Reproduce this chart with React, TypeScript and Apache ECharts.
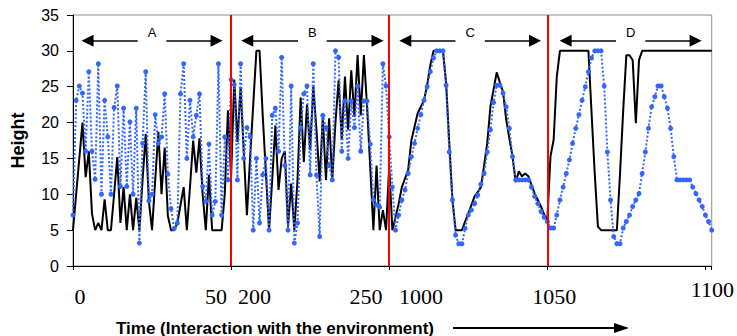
import React, { useEffect, useRef } from "react";
import * as echarts from "echarts";

// Tick positions (continuous step index) and their printed labels
const tickValues = [0, 50, 100, 150, 200];
const tickLabels = ["0", "50  200", "250   1000", "1050", "1100"];

// Segment annotations: [start, end, letter] at height arrowHeight
const arrowHeight = 31.4;
const segmentArrows: [number, number, string][] = [
  [4.6, 45.4, "A"],
  [55.1, 96.3, "B"],
  [105.1, 146.1, "C"],
  [155.8, 196.9, "D"],
];
const boundaries = [50, 100, 150];

// Black solid series, per segment
const blackA = [5, 10, 15, 20, 12.4, 16, 7.3, 5, 6, 5, 9.3, 5, 5, 10, 15.2, 6, 11, 5, 10, 5,
  9.5, 5, 12, 18.4, 9, 5, 12, 18.7, 10, 16.5, 7, 5, 5, 6, 8.5, 11, 5, 11, 17.5, 13,
  17.8, 10, 5, 12.7, 5, 5, 5, 5, 10, 21.7];
const blackB = [12.4, 26, 17.3, 25, 16, 7.1, 15, 22.5, 30, 30, 21, 13, 5, 12, 19.6, 10.6, 15, 16, 5.5, 11.5,
  5, 12, 23.5, 14.5, 22.5, 16.2, 25, 19, 11.8, 20.8, 12, 20.6, 12, 20, 25.9, 17.6, 26.4, 19, 27.3, 20.8,
  29.4, 21, 29.4, 22.2, 13.8, 5, 14, 5, 7.8, 5];
const blackC = [13.9, 5, 6.8, 8.7, 11, 12.2, 13.4, 17.5, 19.4, 21.3, 22.2, 23.1, 25.2, 28, 30, 30, 30, 30, 25.5, 17.1,
  9.2, 5, 5, 5, 6.2, 7.3, 8.5, 9.7, 10.3, 11, 14, 17.1, 22.2, 24.6, 27, 25.6, 24.3, 20.4, 17.8, 15.25,
  11.7, 13.2, 12.5, 12.9, 12.5, 11.3, 10.1, 9.2, 8.3, 7.2];
const blackD = [6.4, 15.25, 17.6, 26.4, 30, 30, 30, 30, 30, 30, 30, 30, 30, 30, 21.3, 12.9, 5.5, 5, 5, 5,
  5, 5, 5, 12.9, 21.7, 29.4, 29.4, 28.7, 19.9, 28.7, 30, 30, 30, 30, 30, 30, 30, 30, 30, 30,
  30, 30, 30, 30, 30, 30, 30, 30, 30, 30, 30, 30, 30];

// Blue dotted series, per segment
const blueA = [7.1, 23.1, 25.1, 24.1, 16, 27.1, 16, 12.1, 28.2, 10, 23.1, 18, 10, 22.1, 25.1, 11.1, 22, 11.1, 20.1, 10,
  22, 3.2, 17.1, 27.1, 9.1, 10, 21.1, 17.1, 18, 24, 12.8, 8, 5.2, 6, 24, 28.2, 15, 23.1, 18, 21,
  24, 11.1, 9, 17, 7.1, 9, 28.2, 7.1, 18, 12];
const blueB = [26, 25.3, 12, 28.2, 15, 19.3, 18, 5, 15, 6, 12.7, 15, 5, 21, 22, 16, 29.1, 14, 5, 25.1,
  3.2, 6, 19.3, 24, 25.1, 12.7, 28.2, 12.7, 4.1, 21, 19.3, 14, 12, 30, 29.1, 16, 23, 15, 23, 19.3,
  25.1, 16, 23, 23, 17, 9.2, 8.5, 8.2, 28.2, 25.1];
const blueC = [18, 11, 5, 7.1, 9.2, 10.6, 12.9, 15.25, 17.1, 19.2, 21.1, 23.1, 25, 27.1, 29, 30, 30, 30, 25.2, 15.9,
  9.2, 4.3, 3.1, 3.1, 5.25, 7.1, 7.8, 8.7, 9.9, 11.4, 12.9, 15.9, 19, 22.8, 25.2, 25.2, 24.1, 22.2, 19.2, 15.25,
  12, 12, 12, 12, 12, 11, 9.7, 8.7, 7.6, 6.8, 6.2];
const blueD = [5.3, 5.3, 7.1, 9.2, 11, 12.9, 14.8, 17.1, 19.2, 21.1, 23.1, 25, 27.1, 29, 30, 30, 30, 25.1, 15.9, 9.2,
  4.1, 3.1, 3.1, 5.3, 6.2, 7.1, 8.3, 9.2, 10.1, 12.9, 15.9, 19.2, 22.2, 23.6, 25.1, 25.1, 23.6, 22, 19.2, 15.25,
  12, 12, 12, 12, 12, 11, 10.1, 9.2, 8.3, 7.1, 6.2, 5];

const blackSeries = [...blackA, ...blackB, ...blackC, ...blackD];
const blueSeries = [...blueA, ...blueB, ...blueC, ...blueD];

const SANS = "Liberation Sans";
const SERIF = "Liberation Serif";

export default function App() {
  const ref = useRef<HTMLDivElement>(null);
  useEffect(() => {
    document.body.style.margin = "0";
    if (!ref.current) return;
    const chart = echarts.init(ref.current, null, { renderer: "svg" });
    const option: any = {
      animation: false,
      grid: { left: 73, right: 24, top: 15, bottom: 70, show: true, borderColor: "#8c8c8c", borderWidth: 1 },
      xAxis: {
        type: "value",
        min: 0,
        max: 202,
        interval: 50,
        axisLine: { show: true, lineStyle: { color: "#000", width: 1 } },
        axisTick: { show: true, length: 4, lineStyle: { color: "#000" } },
        splitLine: { show: false },
        axisLabel: {
          margin: 12,
          padding: [0, 0, 0, 14],
          formatter: (v: number) => {
            const i = tickValues.indexOf(v);
            if (i < 0) return "";
            return i === tickLabels.length - 1 ? `{h|${tickLabels[i]}}` : `{n|${tickLabels[i]}}`;
          },
          rich: {
            n: { fontFamily: SERIF, fontSize: 22, color: "#000", padding: [7, 0, 0, 0] },
            h: { fontFamily: SERIF, fontSize: 22, color: "#000", padding: [0, 0, 7, 0] },
          },
        },
      },
      yAxis: {
        type: "value",
        min: 0,
        max: 35,
        interval: 5,
        name: "Height",
        nameLocation: "middle",
        nameRotate: 90,
        nameGap: 46,
        nameTextStyle: { fontFamily: SANS, fontWeight: "bold", fontSize: 18, color: "#000" },
        axisLine: { show: true, lineStyle: { color: "#000", width: 1 } },
        axisTick: { show: true, length: 6, lineStyle: { color: "#000" } },
        splitLine: { show: false },
        axisLabel: { fontFamily: SANS, fontSize: 16, color: "#000", margin: 14, padding: [10, 0, 0, 0] },
      },
      series: [
        {
          type: "line",
          name: "annotations",
          data: [],
          z: 0,
          silent: true,
          markLine: {
            silent: true,
            animation: false,
            symbol: ["triangle", "triangle"],
            symbolSize: 12,
            lineStyle: { color: "#000", width: 1.5, type: "solid" },
            label: {
              show: true,
              position: "insideMiddleTop",
              distance: -2,
              formatter: "{b}",
              fontFamily: SANS,
              fontSize: 13,
              lineHeight: 13,
              color: "#000",
              backgroundColor: "#fff",
              padding: [0, 10, 4, 10],
            },
            emphasis: { disabled: true },
            data: segmentArrows.map(([a, b, name]) => [
              { coord: [a, arrowHeight], name },
              { coord: [b, arrowHeight] },
            ]),
          },
        },
        {
          type: "line",
          name: "black",
          data: blackSeries.map((v, i) => [i, v]),
          symbol: "none",
          z: 2,
          lineStyle: { color: "#000", width: 2 },
          emphasis: { disabled: true },
          markLine: {
            silent: true,
            animation: false,
            symbol: "none",
            label: { show: false },
            lineStyle: { color: "#ff0000", width: 2, type: "solid" },
            emphasis: { disabled: true },
            data: boundaries.map((b) => ({ xAxis: b })),
          },
        },
        {
          type: "line",
          name: "blue",
          data: blueSeries.map((v, i) => [i, v]),
          symbol: "circle",
          symbolSize: 5,
          z: 3,
          itemStyle: { color: "#3366ff" },
          lineStyle: { color: "#3366ff", width: 2, type: [2, 2] },
          emphasis: { disabled: true },
        },
      ],
      graphic: [
        {
          type: "text",
          x: 116,
          y: 328,
          style: {
            text: "Time (Interaction with the environment)",
            fontFamily: SANS,
            fontWeight: "bold",
            fontSize: 17,
            fill: "#000",
            verticalAlign: "middle",
          },
        },
        { type: "line", shape: { x1: 453, y1: 328, x2: 618, y2: 328 }, style: { stroke: "#000", lineWidth: 2 } },
        {
          type: "polygon",
          shape: { points: [[614, 323], [629, 328], [614, 333]] },
          style: { fill: "#000" },
        },
      ],
    };
    chart.setOption(option);
    return () => chart.dispose();
  }, []);
  return <div ref={ref} style={{ width: 737, height: 336 }} />;
}
